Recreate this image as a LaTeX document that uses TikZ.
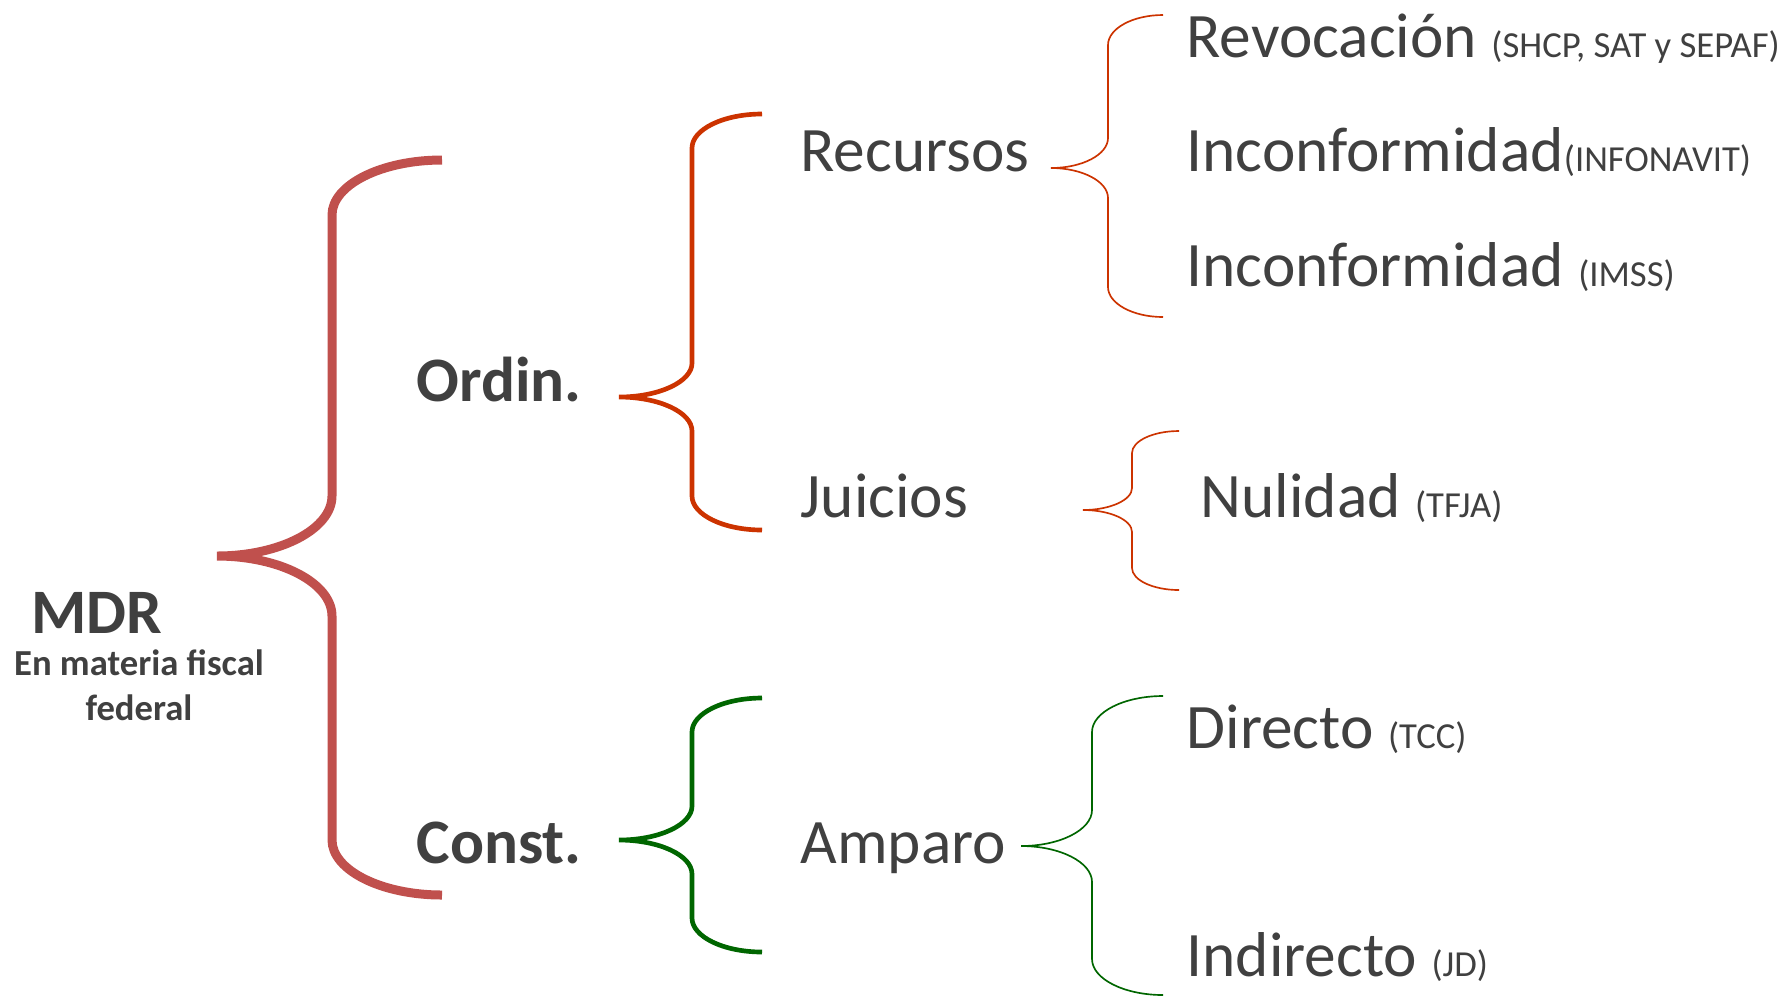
\documentclass[tikz,border=0pt]{standalone}
\usepackage{fontspec}
\setmainfont{Carlito}
\usetikzlibrary{positioning}
\definecolor{brick}{HTML}{C0504D}
\definecolor{rust}{HTML}{CC3300}
\definecolor{fern}{HTML}{006600}
\definecolor{ink}{HTML}{404040}

% #1 style, #2 tip x, #3 tip y, #4 spine x, #5 end x, #6 top y, #7 bottom y, #8 end bend, #9 tip bend
\newcommand{\splitbrace}[9]{%
  \draw[#1] (#5,#6) .. controls ({#5-0.55*(#5-#4)},#6) and (#4,{#6+0.45*#8}) .. (#4,{#6+#8})
    -- (#4,{#3-#9}) .. controls (#4,{#3-0.45*#9}) and ({#2+0.55*(#4-#2)},#3) .. (#2,#3)
    .. controls ({#2+0.55*(#4-#2)},#3) and (#4,{#3+0.45*#9}) .. (#4,{#3+#9})
    -- (#4,{#7-#8}) .. controls (#4,{#7-0.45*#8}) and ({#5-0.55*(#5-#4)},#7) .. (#5,#7);}
\newcommand{\smallparen}[1]{{\fontsize{11}{13}\selectfont #1}}

\begin{document}
\begin{tikzpicture}[x=0.3pt,y=-0.3pt,
  every node/.style={inner sep=0pt,text=ink},
  item/.style={anchor=base west,font=\fontsize{19}{23}\selectfont},
  branch/.style={anchor=base west,font=\bfseries\fontsize{19}{23}\selectfont},
  subtitle/.style={anchor=base,font=\bfseries\fontsize{11}{13}\selectfont},
  bigbrace/.style={draw=brick,line width=2.7pt},
  midbrace/.style={line width=1.4pt},
  thinbrace/.style={line width=0.5pt}]
\useasboundingbox (0,0) rectangle (1788,997);

% root
\node[branch,anchor=base] (mdr) at (97,633) {MDR};
\node[subtitle] (fiscal) at (139,675) {En materia fiscal};
\node[subtitle] (federal) at (139,720) {federal};

% first level
\node[branch] (ordin) at (416,401) {Ordin.};
\node[branch] (const) at (416,863) {Const.};

% second level
\node[item] (recursos) at (800,171) {Recursos};
\node[item] (juicios) at (800,517) {Juicios};
\node[item] (amparo) at (800,863) {Amparo};

% leaves
\node[item] (revocacion) at (1186,57) {Revocación \smallparen{(SHCP, SAT y SEPAF)}};
\node[item] (infonavit) at (1186,171) {Inconformidad\smallparen{(INFONAVIT)}};
\node[item] (imss) at (1186,286) {Inconformidad \smallparen{(IMSS)}};
\node[item] (nulidad) at (1200,517) {Nulidad \smallparen{(TFJA)}};
\node[item] (directo) at (1186,748) {Directo \smallparen{(TCC)}};
\node[item] (indirecto) at (1186,976) {Indirecto \smallparen{(JD)}};

% braces
\splitbrace{bigbrace}{217}{556}{332}{442}{160}{895}{55}{60}
\splitbrace{draw=rust,midbrace}{619}{397}{692}{762}{114}{530}{34}{34}
\splitbrace{draw=fern,midbrace}{619}{840}{692}{762}{698}{952}{34}{34}
\splitbrace{draw=rust,thinbrace}{1051}{168}{1108}{1163}{15}{317}{30}{30}
\splitbrace{draw=rust,thinbrace}{1083}{510}{1132}{1179}{431}{590}{22}{22}
\splitbrace{draw=fern,thinbrace}{1021}{846}{1092}{1163}{696}{995}{36}{36}
\end{tikzpicture}
\end{document}
